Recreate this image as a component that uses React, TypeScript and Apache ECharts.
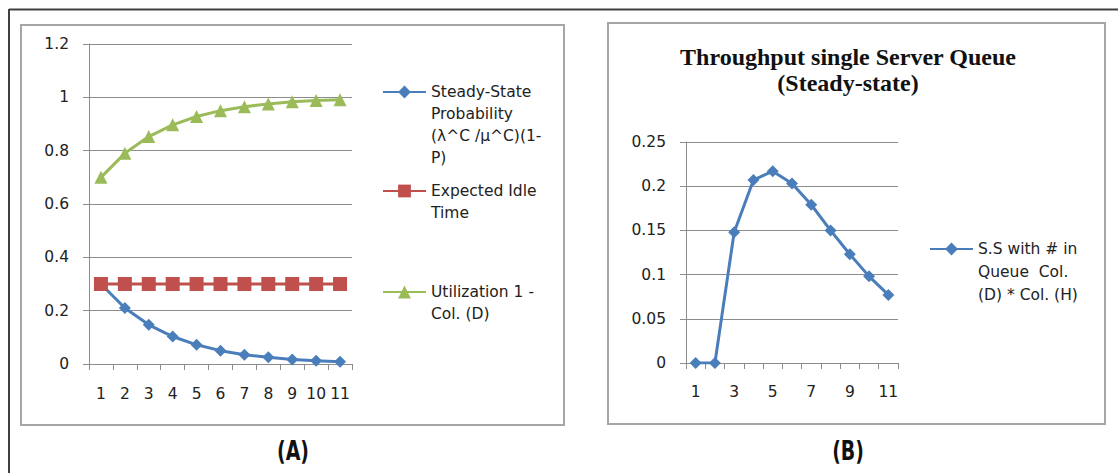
import React, { useEffect, useRef } from "react";
import * as echarts from "echarts";

const categories = ["1", "2", "3", "4", "5", "6", "7", "8", "9", "10", "11"];
const steadyState = [0.3, 0.21, 0.147, 0.103, 0.072, 0.05, 0.035, 0.025, 0.017, 0.012, 0.008];
const idleTime = [0.3, 0.3, 0.3, 0.3, 0.3, 0.3, 0.3, 0.3, 0.3, 0.3, 0.3];
const utilization = [0.7, 0.79, 0.853, 0.897, 0.928, 0.95, 0.965, 0.975, 0.983, 0.988, 0.991];
const throughput = [0, 0, 0.148, 0.207, 0.217, 0.203, 0.179, 0.15, 0.123, 0.098, 0.077];

const nameSS = "Steady-State\nProbability\n(λ^C /μ^C)(1-\nP)";
const nameIdle = "Expected Idle\nTime";
const nameUtil = "Utilization 1 -\nCol. (D)";
const nameB = "S.S with # in\nQueue  Col.\n(D) * Col. (H)";

const BLUE = "#4A7EBB";
const RED = "#C0504D";
const GREEN = "#9BBB59";
const FONT = "'DejaVu Sans', sans-serif";
const GRID = "#8c8c8c";

function padLines(name: string): string {
  const n = name.split("\n").length;
  return "\n".repeat(n - 1) + name;
}

export default function App() {
  const ref = useRef<HTMLDivElement>(null);
  useEffect(() => {
    if (!ref.current) return;
    const chart = echarts.init(ref.current, undefined, { renderer: "svg" });
    const axisCommon = {
      axisLine: { show: true, lineStyle: { color: GRID, width: 1 } },
      axisTick: { show: true, length: 6, lineStyle: { color: GRID } },
      axisLabel: { color: "#222", fontFamily: FONT, fontSize: 15.5 },
    };
    const legendCommon = {
      orient: "vertical" as const,
      padding: 0,
      itemWidth: 43,
      itemHeight: 16,
      textStyle: { fontFamily: FONT, fontSize: 15.5, color: "#222", lineHeight: 22 },
      formatter: (n: string) => padLines(n),
      selectedMode: false,
    };
    const labelFont = "'DejaVu Sans Condensed', 'Liberation Sans Narrow', sans-serif";
    chart.setOption({
      animation: false,
      backgroundColor: "#fff",
      grid: [
        { left: 89, right: 1118 - 352, top: 44, bottom: 473 - 364 },
        { left: 686, right: 1118 - 898, top: 142, bottom: 473 - 363 },
      ],
      title: {
        text: "Throughput single Server Queue\n(Steady-state)",
        left: 843,
        top: 39,
        textAlign: "center",
        textStyle: {
          fontFamily: "'Liberation Serif', 'Times New Roman', serif",
          fontWeight: "bold",
          fontSize: 24,
          lineHeight: 26,
          color: "#111",
        },
      },
      legend: [
        { ...legendCommon, data: [nameSS], left: 382, top: 92 - 77 },
        { ...legendCommon, data: [nameIdle], left: 382, top: 191 - 33 },
        { ...legendCommon, data: [nameUtil], left: 382, top: 292 - 33 },
        {
          ...legendCommon,
          data: [nameB],
          left: 929,
          top: 249 - 57.5,
          textStyle: { ...legendCommon.textStyle, lineHeight: 23 },
        },
      ],
      xAxis: [
        {
          type: "category",
          gridIndex: 0,
          data: categories,
          boundaryGap: true,
          ...axisCommon,
          axisLabel: { ...axisCommon.axisLabel, interval: 0, margin: 22 },
          axisTick: { ...axisCommon.axisTick, interval: 0 },
        },
        {
          type: "category",
          gridIndex: 1,
          data: categories,
          boundaryGap: true,
          ...axisCommon,
          axisLabel: { ...axisCommon.axisLabel, interval: 1, margin: 21 },
          axisTick: { ...axisCommon.axisTick, interval: 0 },
        },
      ],
      yAxis: [
        {
          type: "value",
          gridIndex: 0,
          min: 0,
          max: 1.2,
          interval: 0.2,
          ...axisCommon,
          axisLabel: { ...axisCommon.axisLabel, margin: 20 },
          splitLine: { show: true, lineStyle: { color: GRID, width: 1 } },
        },
        {
          type: "value",
          gridIndex: 1,
          min: 0,
          max: 0.25,
          interval: 0.05,
          ...axisCommon,
          axisLabel: { ...axisCommon.axisLabel, margin: 20 },
          splitLine: { show: true, lineStyle: { color: GRID, width: 1 } },
        },
      ],
      series: [
        {
          type: "line",
          name: nameSS,
          xAxisIndex: 0,
          yAxisIndex: 0,
          data: steadyState,
          symbol: "diamond",
          symbolSize: 12,
          lineStyle: { color: BLUE, width: 3 },
          itemStyle: { color: BLUE },
        },
        {
          type: "line",
          name: nameIdle,
          xAxisIndex: 0,
          yAxisIndex: 0,
          data: idleTime,
          symbol: "rect",
          symbolSize: 14,
          lineStyle: { color: RED, width: 3 },
          itemStyle: { color: RED },
        },
        {
          type: "line",
          name: nameUtil,
          xAxisIndex: 0,
          yAxisIndex: 0,
          data: utilization,
          symbol: "triangle",
          symbolSize: 13,
          lineStyle: { color: GREEN, width: 3 },
          itemStyle: { color: GREEN },
        },
        {
          type: "line",
          name: nameB,
          xAxisIndex: 1,
          yAxisIndex: 1,
          data: throughput,
          symbol: "diamond",
          symbolSize: 12,
          lineStyle: { color: BLUE, width: 3 },
          itemStyle: { color: BLUE },
        },
      ],
      graphic: [
        { type: "line", shape: { x1: 9, y1: 9.5, x2: 1118, y2: 9.5 }, style: { stroke: "#404040", lineWidth: 2 } },
        { type: "line", shape: { x1: 9, y1: 9, x2: 9, y2: 473 }, style: { stroke: "#404040", lineWidth: 2 } },
        { type: "rect", shape: { x: 21, y: 25, width: 543, height: 400 }, style: { fill: "none", stroke: "#a6a6a6", lineWidth: 2 }, z: -1 },
        { type: "rect", shape: { x: 608, y: 23, width: 497, height: 401 }, style: { fill: "none", stroke: "#a6a6a6", lineWidth: 2 }, z: -1 },
        {
          type: "text",
          x: 293,
          y: 451,
          scaleX: 0.78,
          style: {
            text: "(A)",
            fontFamily: labelFont,
            fontSize: 27,
            fontWeight: "bold",
            fill: "#111",
            align: "center",
            verticalAlign: "middle",
          },
        },
        {
          type: "text",
          x: 848,
          y: 451,
          scaleX: 0.78,
          style: {
            text: "(B)",
            fontFamily: labelFont,
            fontSize: 27,
            fontWeight: "bold",
            fill: "#111",
            align: "center",
            verticalAlign: "middle",
          },
        },
      ],
    });
    return () => chart.dispose();
  }, []);
  return (
    <div
      ref={ref}
      style={{ position: "absolute", left: 0, top: 0, width: 1118, height: 473 }}
    />
  );
}
